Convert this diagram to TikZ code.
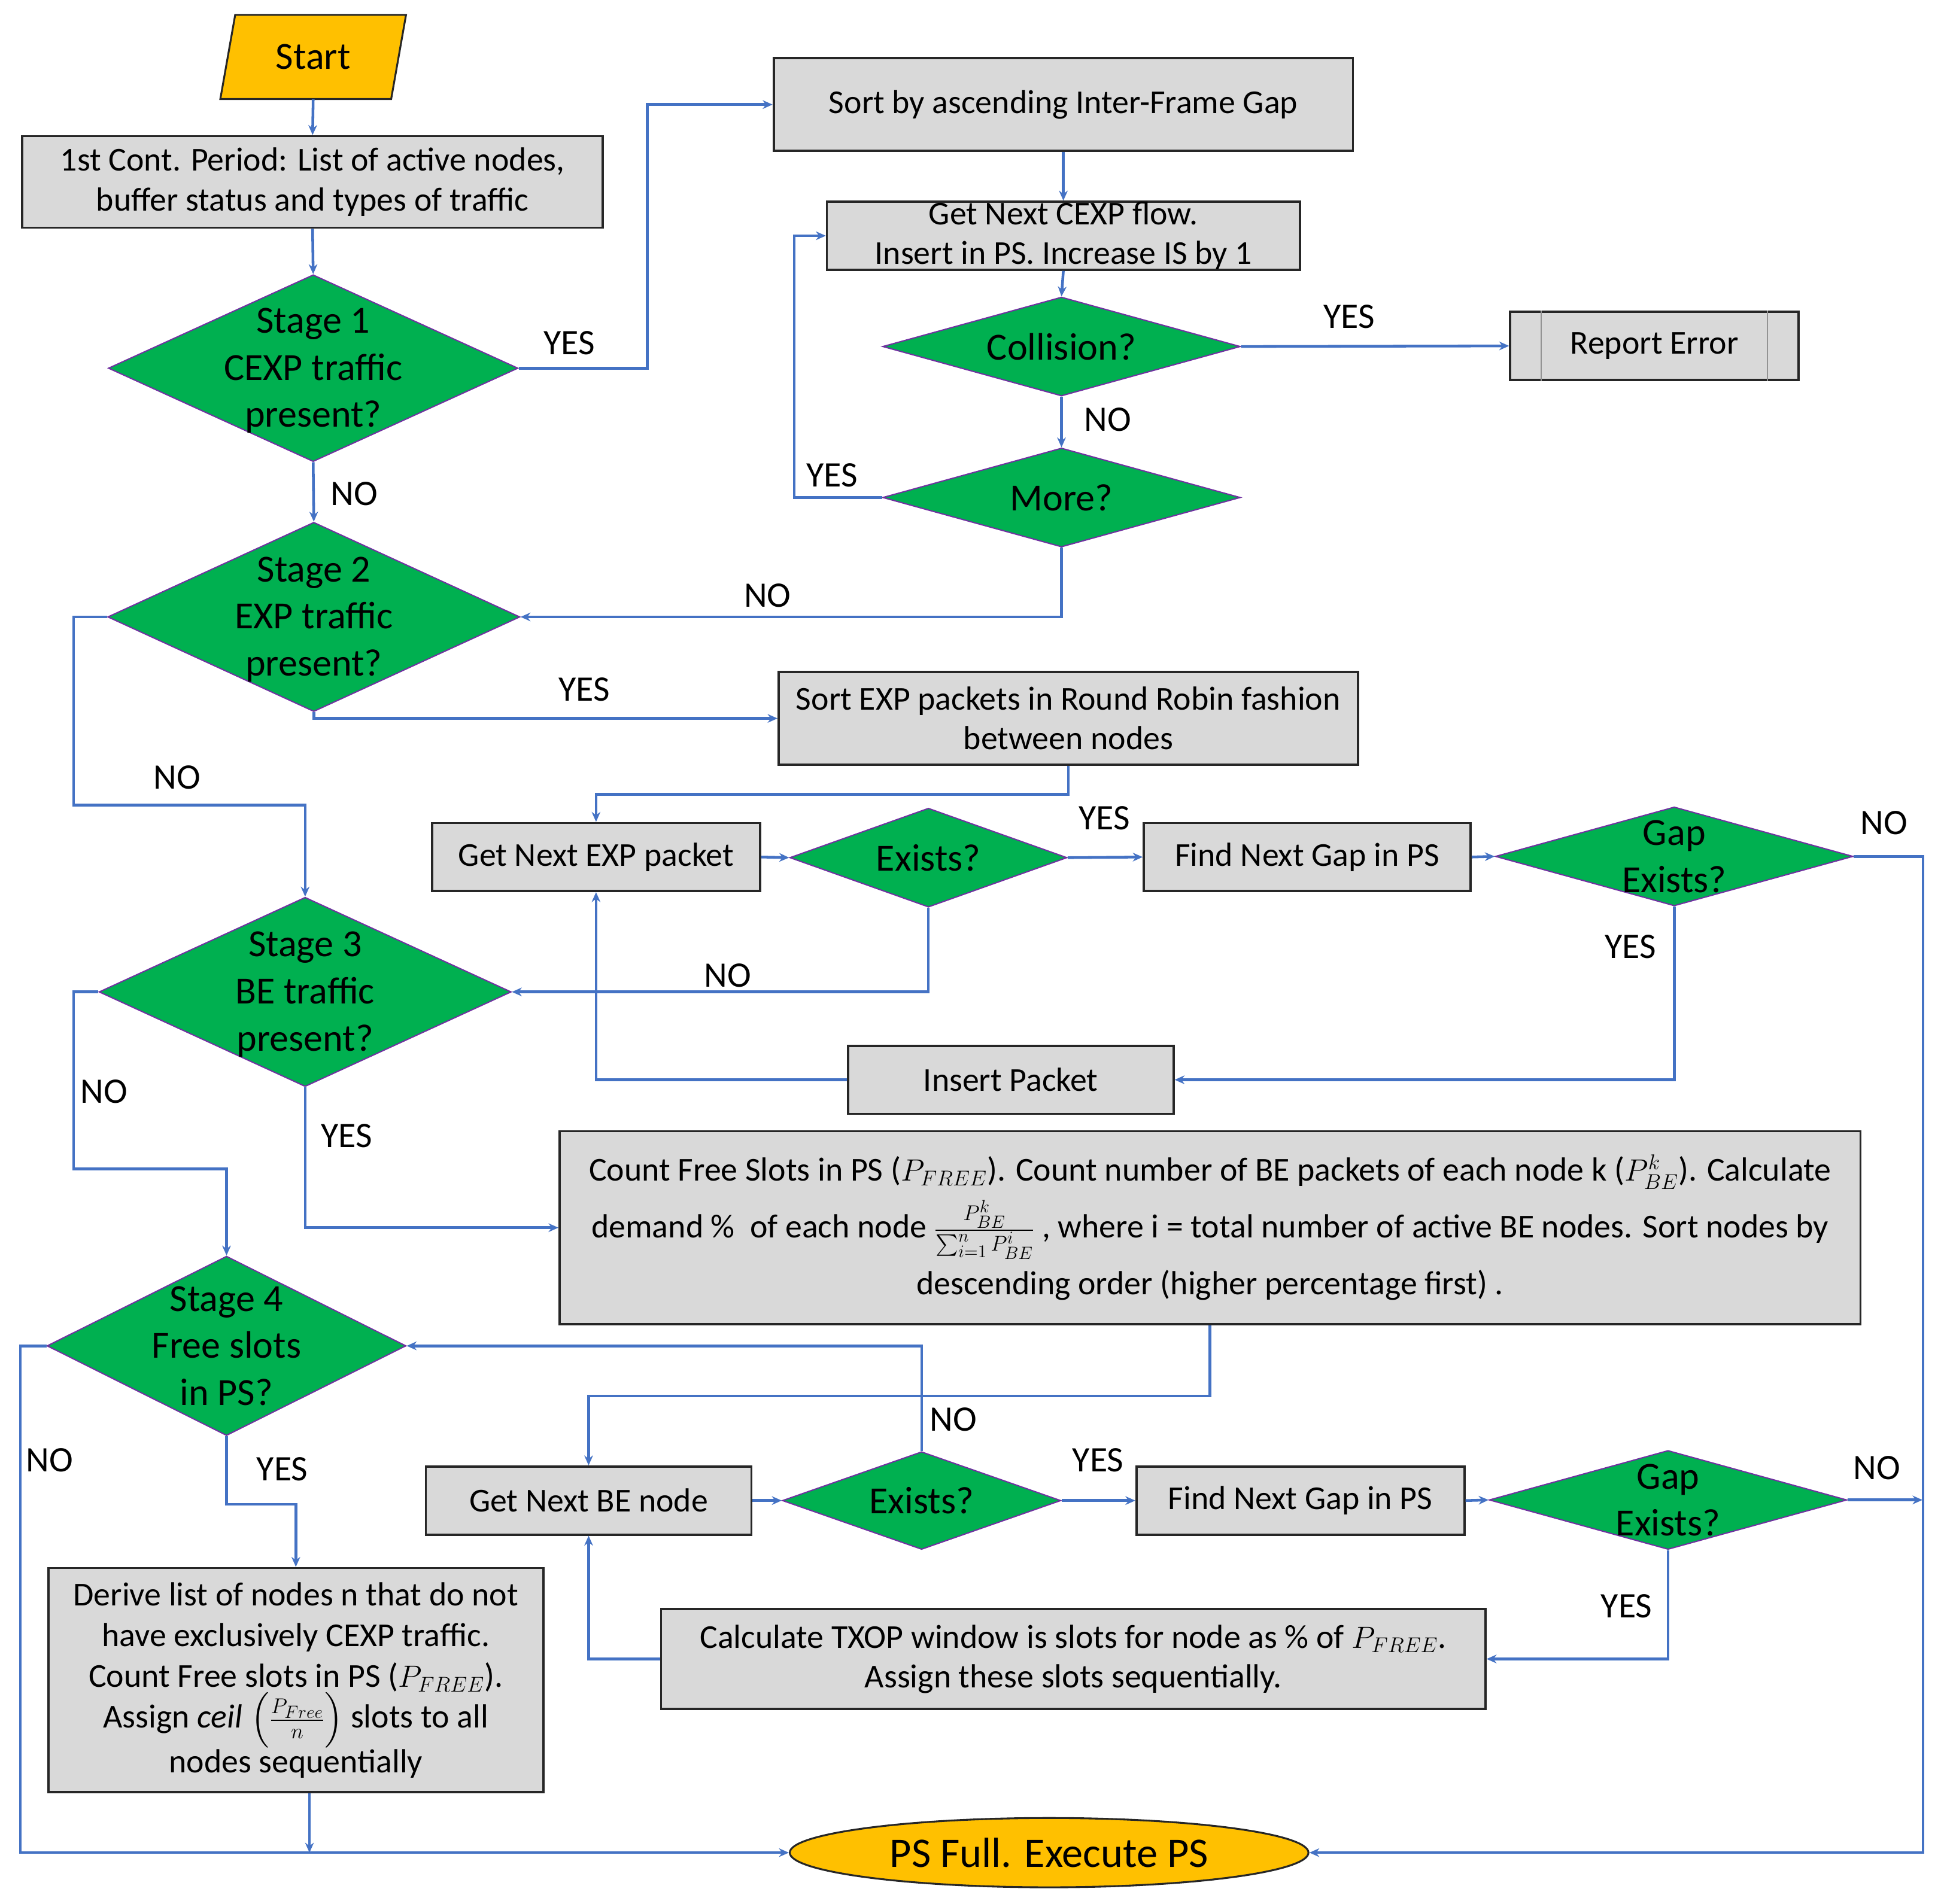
\documentclass[tikz,border=0pt]{standalone}
\usepackage{amsmath}
\usepackage{fontspec}
\setmainfont{Carlito}
\usetikzlibrary{shapes.geometric,arrows.meta,calc}
\definecolor{gold}{HTML}{FFC000}
\definecolor{dgreen}{HTML}{00B050}
\definecolor{dpurple}{HTML}{7030A0}
\definecolor{bgray}{HTML}{D9D9D9}
\definecolor{lblue}{HTML}{4472C4}
\definecolor{bdark}{HTML}{262626}
\tikzset{
  pbox/.style={rectangle, draw=bdark, fill=bgray, line width=1.8pt, inner sep=0pt, align=center, font=\fontsize{27}{32}\selectfont},
  dshape/.style={diamond, draw=dpurple, fill=dgreen, line width=1pt, inner sep=0pt},
  dtext/.style={align=center, font=\fontsize{31}{38}\selectfont, inner sep=0pt},
  conn/.style={draw=lblue, line width=2.2pt, -{Stealth[length=8pt,width=7pt]}},
  lbl/.style={font=\fontsize{29}{34}\selectfont, inner sep=0pt},
}
\begin{document}
\begin{tikzpicture}[x=1pt,y=-1pt]
\useasboundingbox (0,0) rectangle (1568,1538.5);
% Start
\draw[fill=gold, draw=bdark, line width=1.5pt] (178,80) -- (190,12) -- (328,12) -- (316,80) -- cycle;
\node[minimum width=130pt, minimum height=68pt, inner sep=0pt, font=\fontsize{31}{36}\selectfont] (start) at (253,46) {Start};
% boxes
\node[pbox, minimum width=469pt, minimum height=74pt] (box1) at (252.5,147) {1st Cont. Period: List of active nodes,\\buffer status and types of traffic};
\node[pbox, minimum width=468pt, minimum height=75pt] (sort) at (859,84.5) {Sort by ascending Inter-Frame Gap};
\node[pbox, minimum width=382pt, minimum height=55pt] (getc) at (859,190.5) {Get Next CEXP flow.\\Insert in PS. Increase IS by 1};
\node[pbox, minimum width=233pt, minimum height=55pt] (rep) at (1336.5,279.5) {Report Error};
\draw[bdark!50, line width=0.8pt] ($(rep.north west)+(26,0)$) -- ($(rep.south west)+(26,0)$);
\draw[bdark!50, line width=0.8pt] ($(rep.north east)+(-26,0)$) -- ($(rep.south east)+(-26,0)$);
\node[pbox, minimum width=468pt, minimum height=75pt] (sortexp) at (863,580.5) {Sort EXP packets in Round Robin fashion\\between nodes};
\node[pbox, minimum width=265pt, minimum height=55pt] (getexp) at (481.5,692.5) {Get Next EXP packet};
\node[pbox, minimum width=264pt, minimum height=55pt] (find1) at (1056,692.5) {Find Next Gap in PS};
\node[pbox, minimum width=263pt, minimum height=55pt] (ins) at (816.5,872.5) {Insert Packet};
\node[pbox, minimum width=1051pt, minimum height=156pt] (count) at (977.5,992) {Count Free Slots in PS ($P_{FREE}$). Count number of BE packets of each node k ($P_{BE}^{k}$). Calculate\\[8pt]
demand \%\ \ of each node $\frac{P_{BE}^{k}}{\sum_{i=1}^{n}P_{BE}^{i}}$ , where i = total number of active BE nodes. Sort nodes by\\[8pt]
descending order (higher percentage first) .};
\node[pbox, minimum width=400pt, minimum height=181pt, font=\fontsize{27}{33}\selectfont] (derive) at (239,1357.5) {Derive list of nodes n that do not\\have exclusively CEXP traffic.\\Count Free slots in PS ($P_{FREE}$).\\Assign $\mathit{ceil}\;\Bigl(\frac{P_{Free}}{n}\Bigr)$ slots to all\\nodes sequentially};
\node[pbox, minimum width=263pt, minimum height=55pt] (getbe) at (475.5,1212.5) {Get Next BE node};
\node[pbox, minimum width=265pt, minimum height=55pt] (find2) at (1050.5,1212.5) {Find Next Gap in PS};
\node[pbox, minimum width=666pt, minimum height=81pt] (calc) at (867,1340.5) {Calculate TXOP window is slots for node as \% of $P_{FREE}$.\\Assign these slots sequentially.};
\node[ellipse, draw=bdark, fill=gold, line width=1.5pt, minimum width=419pt, minimum height=56pt, inner sep=0pt, font=\fontsize{34}{40}\selectfont] (ps) at (847.5,1497) {PS Full. Execute PS};
% diamonds
\node[dshape, minimum width=331pt, minimum height=151pt] (s1) at (253,297.5) {};
\node[dtext] at ($(s1)+(0,2)$) {Stage 1\\CEXP traffic\\present?};
\node[dshape, minimum width=289pt, minimum height=80pt] (coll) at (857.5,280) {};
\node[dtext] at (coll) {Collision?};
\node[dshape, minimum width=289pt, minimum height=80pt] (more) at (857.5,402) {};
\node[dtext] at (more) {More?};
\node[dshape, minimum width=333pt, minimum height=153pt] (s2) at (253.5,498.5) {};
\node[dtext] at ($(s2)+(0,2)$) {Stage 2\\EXP traffic\\present?};
\node[dshape, minimum width=224pt, minimum height=80pt] (ex1) at (750,693) {};
\node[dtext] at (ex1) {Exists?};
\node[dshape, minimum width=289pt, minimum height=80pt] (gap1) at (1352.5,692) {};
\node[dtext] at (gap1) {Gap\\Exists?};
\node[dshape, minimum width=333pt, minimum height=153pt] (s3) at (246.5,801.5) {};
\node[dtext] at ($(s3)+(0,2)$) {Stage 3\\BE traffic\\present?};
\node[dshape, minimum width=290pt, minimum height=145pt] (s4) at (183,1087.5) {};
\node[dtext] at (s4) {Stage 4\\Free slots\\in PS?};
\node[dshape, minimum width=225pt, minimum height=79pt] (ex2) at (744.5,1212.5) {};
\node[dtext] at (ex2) {Exists?};
\node[dshape, minimum width=289pt, minimum height=80pt] (gap2) at (1347.5,1212) {};
\node[dtext] at (gap2) {Gap\\Exists?};
% connectors
\draw[conn] (start.south) -- (box1.north);
\draw[conn] (box1.south) -- (s1.north);
\draw[conn] (s1.east) -- ++(104,0) |- (sort.west);
\draw[conn] (sort.south) -- (getc.north);
\draw[conn] (getc.south) -- (coll.north);
\draw[conn] (coll.east) -- (rep.west);
\draw[conn] (coll.south) -- (more.north);
\draw[conn] (more.west) -- ++(-71,0) |- (getc.west);
\draw[conn] (more.south) |- (s2.east);
\draw[conn] (s1.south) -- (s2.north);
\draw[conn] (s2.south) -- (s2.south |- sortexp.west) -- (sortexp.west);
\draw[conn] (sortexp.south) -- ++(0,23) -| (getexp.north);
\draw[conn] (getexp.east) -- (ex1.west);
\draw[conn] (ex1.east) -- (find1.west);
\draw[conn] (find1.east) -- (gap1.west);
\draw[conn] (gap1.east) -- ++(56,0) |- (ps.east);
\draw[conn] (gap1.south) |- (ins.east);
\draw[conn] (ins.west) -| (getexp.south);
\draw[conn] (ex1.south) |- (s3.east);
\draw[conn] (s2.west) -- ++(-27,0) |- ($(s3.north)+(0,-74)$) -- (s3.north);
\draw[conn] (s3.south) |- (count.west);
\draw[conn] (s3.west) -- ++(-20,0) |- ($(s4.north)+(0,-70)$) -- (s4.north);
\draw[conn] (s4.west) -- ++(-21,0) |- (ps.west);
\draw[conn] (s4.south) -- ++(0,55) -| (derive.north);
\coordinate (dj) at ($(derive.south)+(11,0)$);
\draw[conn] (dj) -- (dj |- ps.west);
\draw[conn] (count.south) -- ++(0,57) -| (getbe.north);
\draw[conn] (ex2.north) |- (s4.east);
\draw[conn] (getbe.east) -- (ex2.west);
\draw[conn] (ex2.east) -- (find2.west);
\draw[conn] (find2.east) -- (gap2.west);
\coordinate (rj) at (1553,1212);
\draw[conn] (gap2.east) -- (rj);
\draw[conn] (gap2.south) |- (calc.east);
\draw[conn] (calc.west) -| (getbe.south);
% labels
\node[lbl] (l1) at (460,277) {YES};
\node[lbl] (l2) at (286,399) {NO};
\node[lbl] (l3) at (1090,256) {YES};
\node[lbl] (l4) at (895,339) {NO};
\node[lbl] (l5) at (672,384) {YES};
\node[lbl] (l6) at (620,481) {NO};
\node[lbl] (l7) at (472,557) {YES};
\node[lbl] (l8) at (143,628) {NO};
\node[lbl] (l9) at (892,661) {YES};
\node[lbl] (l10) at (1522,665) {NO};
\node[lbl] (l11) at (1317,765) {YES};
\node[lbl] (l12) at (588,788) {NO};
\node[lbl] (l13) at (84,882) {NO};
\node[lbl] (l14) at (280,918) {YES};
\node[lbl] (l15) at (770,1147) {NO};
\node[lbl] (l16) at (887,1180) {YES};
\node[lbl] (l17) at (1516,1186) {NO};
\node[lbl] (l18) at (228,1187) {YES};
\node[lbl] (l19) at (40,1180) {NO};
\node[lbl] (l20) at (1314,1298) {YES};
\end{tikzpicture}
\end{document}
